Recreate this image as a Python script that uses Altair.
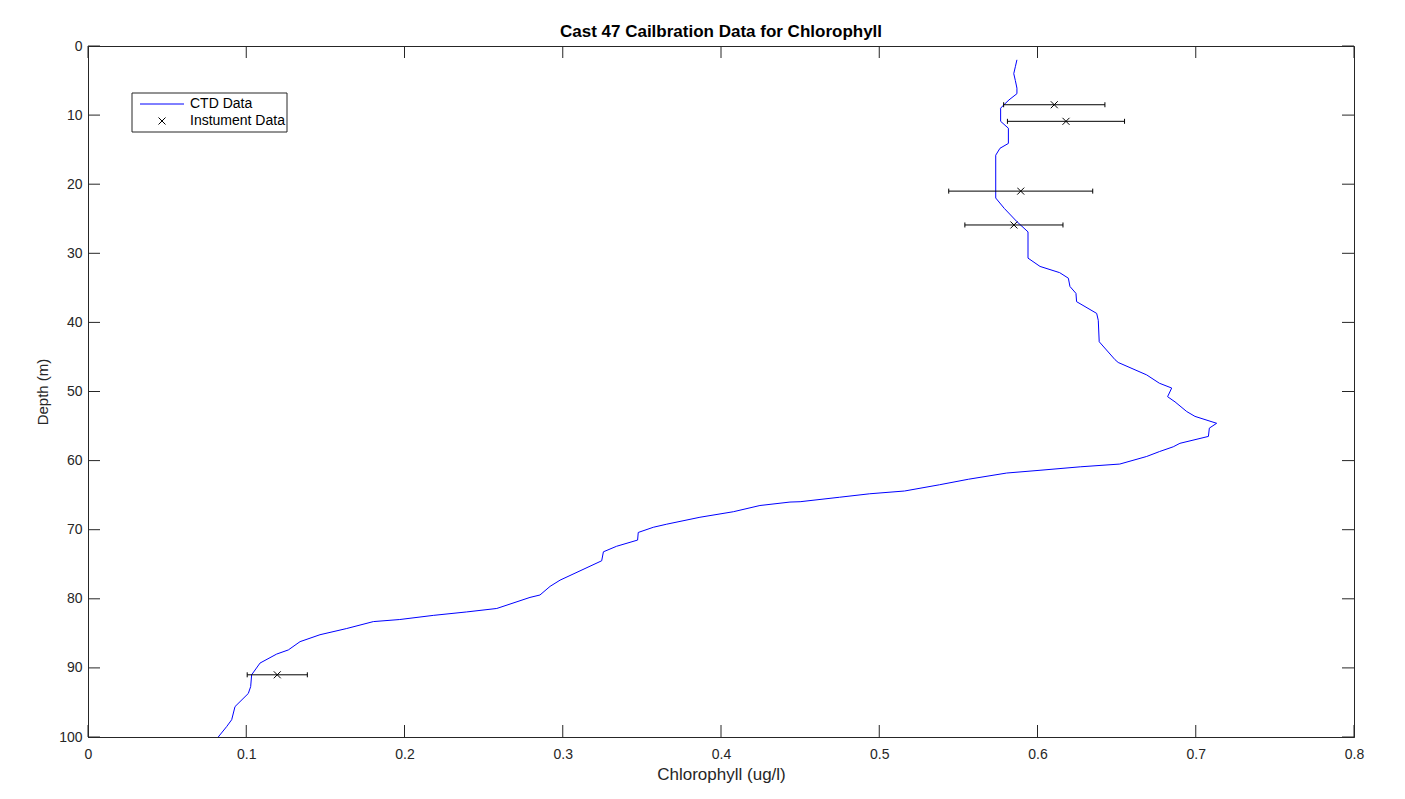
import altair as alt
import pandas as pd

# CTD profile (depth in m, chlorophyll in ug/l)
ctd_depth = [2.0, 3.0, 4.0, 5.0, 6.1, 6.9, 7.8, 8.5, 9.0, 10.9, 11.9, 14.1, 14.8, 15.8,
             22.0, 23.5, 25.4, 26.9, 30.7, 31.9, 32.8, 33.6, 34.8, 35.8, 37.0, 38.7,
             39.7, 42.8, 45.4, 45.8, 47.6, 48.8, 49.5, 50.75, 51.5, 52.9, 53.6, 54.6,
             55.3, 56.5, 57.5, 58.0, 58.7, 59.4, 60.5, 60.9, 61.4, 61.8, 62.7, 63.5,
             64.4, 64.8, 65.3, 65.95, 66.0, 66.5, 67.4, 68.2, 69.2, 69.65, 70.4, 71.5,
             72.4, 73.2, 74.5, 77.3, 78.2, 79.45, 79.8, 81.4, 81.9, 82.4, 83.0, 83.3,
             84.3, 85.2, 86.2, 87.4, 88.0, 89.3, 91.0, 92.7, 93.7, 95.6, 97.5, 98.5, 100.0]
ctd_chl = [0.587, 0.586, 0.585, 0.586, 0.587, 0.587, 0.582, 0.5788, 0.5767, 0.5767,
           0.5816, 0.5816, 0.5763, 0.5736, 0.5736, 0.579, 0.5869, 0.594, 0.594, 0.6016,
           0.614, 0.6195, 0.6205, 0.6243, 0.6247, 0.6374, 0.6384, 0.639, 0.649, 0.651,
           0.669, 0.677, 0.6848, 0.6822, 0.6869, 0.6943, 0.6995, 0.7132, 0.7086, 0.708,
           0.690, 0.6858, 0.677, 0.669, 0.652, 0.627, 0.6016, 0.5805, 0.5563, 0.538,
           0.516, 0.494, 0.475, 0.45, 0.4436, 0.4246, 0.4078, 0.3867, 0.3657, 0.3572,
           0.3477, 0.3473, 0.334, 0.3257, 0.3246, 0.2983, 0.292, 0.2856, 0.2793, 0.2583,
           0.2393, 0.2182, 0.197, 0.1803, 0.1635, 0.1466, 0.134, 0.1266, 0.1192, 0.1087,
           0.1034, 0.1028, 0.1013, 0.0929, 0.0908, 0.0876, 0.0823]

# Instrument samples
inst_depth = [8.5, 10.9, 21.0, 25.9, 91.0]
inst_chl = [0.6106, 0.618, 0.5894, 0.5851, 0.1196]
inst_err = [0.032, 0.037, 0.0455, 0.031, 0.019]

x_ticks = [0, 0.1, 0.2, 0.3, 0.4, 0.5, 0.6, 0.7, 0.8]
y_ticks = [0, 10, 20, 30, 40, 50, 60, 70, 80, 90, 100]
legend_labels = ["CTD Data", "Instument Data"]
title_text = "Cast 47 Cailbration Data for Chlorophyll"
x_title = "Chlorophyll (ug/l)"
y_title = "Depth (m)"

W, H = 1266, 691
AX = "#262626"
TICK = 12

ctd = pd.DataFrame({"depth": ctd_depth, "chl": ctd_chl, "idx": list(range(len(ctd_depth)))})
inst = pd.DataFrame({"depth": inst_depth, "chl": inst_chl, "err": inst_err})
inst["lo"] = inst["chl"] - inst["err"]
inst["hi"] = inst["chl"] + inst["err"]
xt = pd.DataFrame({"chl": x_ticks})
yt = pd.DataFrame({"depth": y_ticks})

xscale = alt.Scale(domain=[0, 0.8], nice=False, zero=False)
yscale = alt.Scale(domain=[0, 100], reverse=True, nice=False, zero=False)
xaxis = alt.Axis(values=x_ticks, format="~g", title=x_title, labelFlush=False)
yaxis = alt.Axis(values=y_ticks, title=y_title, labelFlush=False)


def X(field):
    return alt.X(field, type="quantitative", scale=xscale, axis=xaxis, title=x_title)


def Y(field):
    return alt.Y(field, type="quantitative", scale=yscale, axis=yaxis, title=y_title)


line = alt.Chart(ctd).mark_line(color="#0000ff", strokeWidth=1).encode(
    x=X("chl"), y=Y("depth"), order=alt.Order("idx:Q"))

err_rule = alt.Chart(inst).mark_rule(color="#000000", strokeWidth=1).encode(
    x=X("lo"), x2="hi:Q", y=Y("depth"))

cap_lo = alt.Chart(inst).mark_point(shape="M0,-1L0,1", size=25, filled=False,
                                    color="#000000", strokeWidth=1, opacity=1).encode(
    x=X("lo"), y=Y("depth"))
cap_hi = alt.Chart(inst).mark_point(shape="M0,-1L0,1", size=25, filled=False,
                                    color="#000000", strokeWidth=1, opacity=1).encode(
    x=X("hi"), y=Y("depth"))

markers = alt.Chart(inst).mark_point(shape="M-1,-1L1,1M-1,1L1,-1", size=49, filled=False,
                                     color="#000000", strokeWidth=1, opacity=1).encode(
    x=X("chl"), y=Y("depth"))

# inward ticks on all four sides
xt_bottom = alt.Chart(xt).mark_rule(color=AX, strokeWidth=1).encode(
    x=X("chl"), y=alt.value(H), y2=alt.value(H - TICK))
xt_top = alt.Chart(xt).mark_rule(color=AX, strokeWidth=1).encode(
    x=X("chl"), y=alt.value(0), y2=alt.value(TICK))
yt_left = alt.Chart(yt).mark_rule(color=AX, strokeWidth=1).encode(
    y=Y("depth"), x=alt.value(0), x2=alt.value(TICK))
yt_right = alt.Chart(yt).mark_rule(color=AX, strokeWidth=1).encode(
    y=Y("depth"), x=alt.value(W - TICK), x2=alt.value(W))

# legend box
lg0 = pd.DataFrame({"label": [legend_labels[0]]})
lg1 = pd.DataFrame({"label": [legend_labels[1]]})
leg_box = alt.Chart(lg0).mark_rect(fill="white", stroke=AX, strokeWidth=1).encode(
    x=alt.value(44), x2=alt.value(199), y=alt.value(47), y2=alt.value(86))
leg_line = alt.Chart(lg0).mark_rule(color="#0000ff", strokeWidth=1).encode(
    x=alt.value(52), x2=alt.value(96), y=alt.value(58))
leg_mark = alt.Chart(lg1).mark_point(shape="M-1,-1L1,1M-1,1L1,-1", size=49, filled=False,
                                     color="#000000", strokeWidth=1, opacity=1).encode(
    x=alt.value(74), y=alt.value(75))
leg_t0 = alt.Chart(lg0).mark_text(align="left", baseline="middle", fontSize=14,
                                  font="Liberation Sans", color="#000000").encode(
    x=alt.value(102), y=alt.value(58), text="label:N")
leg_t1 = alt.Chart(lg1).mark_text(align="left", baseline="middle", fontSize=14,
                                  font="Liberation Sans", color="#000000").encode(
    x=alt.value(102), y=alt.value(75), text="label:N")

chart = alt.layer(
    xt_bottom, xt_top, yt_left, yt_right,
    line, err_rule, cap_lo, cap_hi, markers,
    leg_box, leg_line, leg_mark, leg_t0, leg_t1,
).properties(
    width=W, height=H,
    title=alt.TitleParams(title_text, fontSize=17, fontWeight="bold", font="Liberation Sans",
                          color="#000000", anchor="middle", frame="group", offset=10, dy=12),
    autosize=alt.AutoSizeParams(type="none"),
    padding={"left": 80, "top": 38, "right": 43, "bottom": 54},
).configure_view(
    stroke=AX, strokeWidth=1
).configure_axis(
    grid=False, ticks=False, tickSize=0, domainColor=AX, domainWidth=1,
    labelFont="Liberation Sans", titleFont="Liberation Sans",
    labelFontSize=14, titleFontSize=15, labelColor=AX, titleColor=AX,
    titleFontWeight="normal", labelOverlap=False, labelBound=False
).configure_axisX(
    labelPadding=10, titlePadding=5, titleFontSize=17
).configure_axisY(
    labelPadding=6, titlePadding=8, titleFontSize=15
)

chart.save("out.html", embed_options={"renderer": "svg", "actions": False})
